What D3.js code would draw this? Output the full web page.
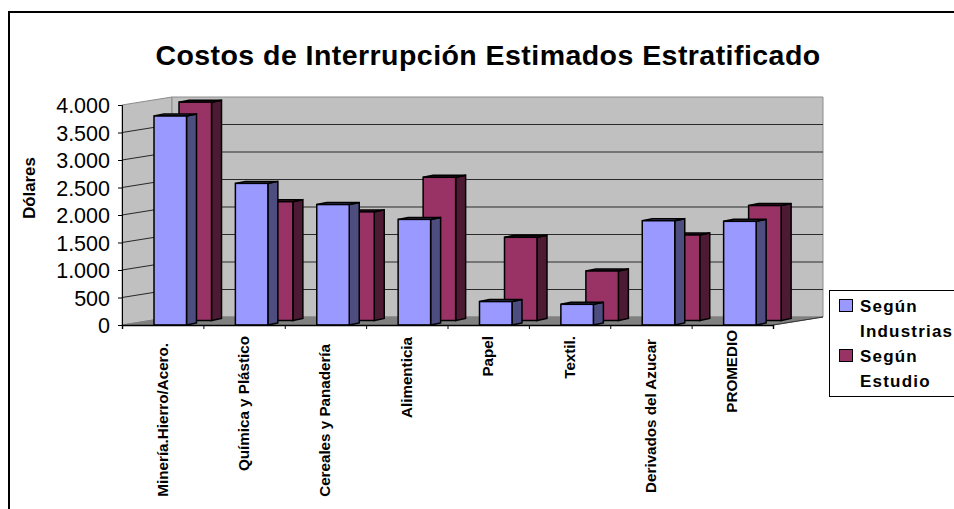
<!DOCTYPE html>
<html>
<head>
<meta charset="utf-8">
<script src="https://cdn.jsdelivr.net/npm/d3@7/dist/d3.min.js"></script>
<style>
html,body{margin:0;padding:0;background:#fff;overflow:hidden}
svg{display:block;font-family:"Liberation Sans",Arial,sans-serif}
</style>
</head>
<body>
<svg id="c" width="954" height="509"></svg>
<script>
const chartTitle = "Costos de Interrupción Estimados Estratificado";
const yTitle = "Dólares";
const categories = ["Minería.Hierro/Acero.","Química y Plástico","Cereales y Panadería","Alimenticia","Papel","Textil.","Derivados del Azucar","PROMEDIO"];
const seriesNames = ["Según Industrias","Según Estudio"];
const legendLines = [["Según","Industrias"],["Según","Estudio"]];
const seriesIndustrias = [3800,2575,2190,1920,426,376,1896,1885];
const seriesEstudio = [3970,2160,1975,2604,1513,900,1555,2090];
const tickValues = [0,500,1000,1500,2000,2500,3000,3500,4000];
const labelShift = [7,0,8,1,0,0,3,-6];

const frontColors = ["#9999ff","#993366"];
const sideColors = ["#4d4d80","#4d1a33"];

const svg = d3.select("#c");
const x0 = 122, x1 = 773, yBase = 325, yTop = 105;
const wallDx = 50, wallDy = -8;
const barOffset = 32, barW = 32.5, sideDx = 10, sideDy = -2;
const seriesDx = 25, seriesDy = -4.5;

const xBand = d3.scaleBand().domain(categories).range([x0,x1]);
const y = d3.scaleLinear().domain([0,4000]).range([yBase,yTop]);
const line = d3.line();

// outer frame
svg.append("path").attr("d","M9,509V12H954").attr("fill","none").attr("stroke","#000").attr("stroke-width",2);

// title
svg.append("text").attr("x",488).attr("y",64.5).attr("text-anchor","middle")
  .attr("font-size",28.5).attr("font-weight","bold").attr("letter-spacing",0.45).attr("fill","#000").text(chartTitle);

// walls
const wall = svg.append("g");
wall.append("path").attr("d",line([[x0,yBase],[x0,yTop],[x0+wallDx,yTop+wallDy],[x0+wallDx,yBase+wallDy]])+"Z")
  .attr("fill","#c0c0c0").attr("stroke","#8c8c8c");
wall.append("path").attr("d",line([[x0+wallDx,yTop+wallDy],[x1+wallDx,yTop+wallDy],[x1+wallDx,yBase+wallDy],[x0+wallDx,yBase+wallDy]])+"Z")
  .attr("fill","#c0c0c0").attr("stroke","#8c8c8c");
wall.append("path").attr("d",line([[x0,yBase],[x0+wallDx,yBase+wallDy],[x1+wallDx,yBase+wallDy],[x1,yBase]])+"Z")
  .attr("fill","#808080").attr("stroke","#808080");

// gridlines
wall.selectAll("path.grid").data(tickValues.filter(v=>v>0&&v<4000)).join("path").attr("class","grid")
  .attr("d",v=>line([[x0,y(v)],[x0+wallDx,y(v)+wallDy],[x1+wallDx,y(v)+wallDy]]))
  .attr("fill","none").attr("stroke","#2a2a2a").attr("stroke-width",1.2);
wall.append("path").attr("d",line([[x1,yBase],[x1+wallDx,yBase+wallDy]])).attr("stroke","#333").attr("fill","none");

// bars
function drawSeries(values,idx,dx,dy){
  const g = svg.append("g").attr("class","series-"+idx).attr("stroke","#000").attr("stroke-width",1.5).attr("stroke-linejoin","miter");
  const cell = g.selectAll("g").data(values.map((v,i)=>({v,c:categories[i]}))).join("g");
  const L = d=>xBand(d.c)+barOffset+dx, R = d=>L(d)+barW, T = d=>y(d.v)+dy, B = ()=>yBase+dy;
  cell.append("path").attr("fill",sideColors[idx])
    .attr("d",d=>line([[R(d),T(d)],[R(d)+sideDx,T(d)+sideDy],[R(d)+sideDx,B()+sideDy],[R(d),B()]])+"Z");
  cell.append("path").attr("fill",sideColors[idx])
    .attr("d",d=>line([[L(d),T(d)],[L(d)+sideDx,T(d)+sideDy],[R(d)+sideDx,T(d)+sideDy],[R(d),T(d)]])+"Z");
  cell.append("rect").attr("fill",frontColors[idx])
    .attr("x",L).attr("y",T).attr("width",barW).attr("height",d=>B()-T(d));
}
drawSeries(seriesEstudio,1,seriesDx,seriesDy);
drawSeries(seriesIndustrias,0,0,0);

// y axis
const yAxis = d3.axisLeft(y).tickValues(tickValues).tickSize(4).tickPadding(8)
  .tickFormat(d=>d3.format(",")(d).replace(",","."));
const yg = svg.append("g").attr("transform",`translate(${x0},0)`).call(yAxis);
yg.select(".domain").attr("stroke","#000");
yg.selectAll(".tick line").attr("stroke","#000");
yg.selectAll("text").attr("font-family","'Liberation Sans',Arial,sans-serif").attr("font-size",21.5).attr("fill","#000").attr("dy","0.36em");

// x axis (category boundaries)
const xEdges = d3.scaleLinear().domain([0,categories.length]).range([x0,x1]);
const xg = svg.append("g").attr("transform",`translate(0,${yBase})`)
  .call(d3.axisBottom(xEdges).ticks(categories.length).tickSize(4).tickFormat(""));
xg.select(".domain").attr("stroke","#000").attr("stroke-width",1.4);
xg.selectAll(".tick line").attr("stroke","#000");

// category labels
svg.append("g").selectAll("text").data(categories).join("text")
  .attr("transform",(d,i)=>`translate(${xBand(d)+xBand.bandwidth()/2+5},${336+labelShift[i]}) rotate(-90)`)
  .attr("text-anchor","end").attr("font-size",15.2).attr("font-weight","bold").attr("fill","#000").text(d=>d);

// y title
svg.append("text").attr("transform","translate(34.5,188) rotate(-90)").attr("text-anchor","middle")
  .attr("font-size",16.8).attr("font-weight","bold").attr("fill","#000").text(yTitle);

// legend
const lg = svg.append("g");
lg.append("rect").attr("x",829.5).attr("y",290.5).attr("width",130).attr("height",106).attr("fill","#fff").attr("stroke","#000");
seriesNames.forEach((s,i)=>{
  lg.append("rect").attr("x",839.5).attr("y",299.5+50*i).attr("width",13).attr("height",12)
    .attr("fill",frontColors[i]).attr("stroke","#000");
  legendLines[i].forEach((t,j)=>{
    lg.append("text").attr("x",860).attr("y",312+50*i+25*j).attr("font-size",17).attr("font-weight","bold")
      .attr("letter-spacing",1.2).attr("fill","#000").text(t);
  });
});
</script>
</body>
</html>
